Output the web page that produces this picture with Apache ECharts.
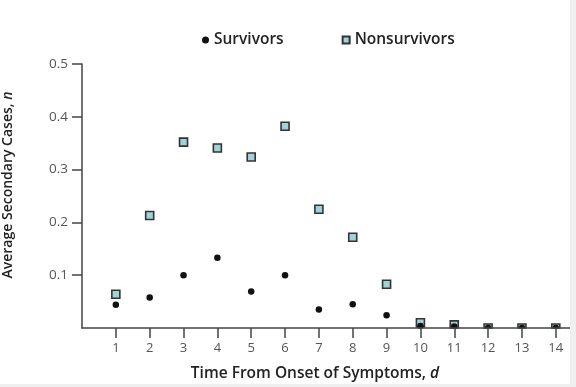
<!DOCTYPE html>
<html><head><meta charset="utf-8">
<script src="https://cdn.jsdelivr.net/npm/echarts@6/dist/echarts.min.js"></script>
<style>html,body{margin:0;padding:0;background:#efefef;} #c{width:570px;height:384px;background:#fff;}</style>
</head><body><div id="c"></div>
<script>
const days = [1,2,3,4,5,6,7,8,9,10,11,12,13,14];
const survivors = [0.044,0.058,0.100,0.133,0.069,0.100,0.035,0.045,0.024,0.004,0.003,0,0,0];
const nonsurvivors = [0.064,0.213,0.352,0.341,0.324,0.382,0.225,0.172,0.083,0.010,0.006,0,0,0];
const yTicks = [0.1,0.2,0.3,0.4,0.5];
const xTicks = days;

const font = '"Open Sans", "Noto Sans", sans-serif';
const axisColor = '#444';
const chart = echarts.init(document.getElementById('c'), null, {renderer:'canvas'});
chart.setOption({
  animation:false,
  backgroundColor:'#fff',
  textStyle:{fontFamily:font},
  legend:{
    top:27, left:197, itemGap:58, itemWidth:7, itemHeight:7,
    textStyle:{fontFamily:font, fontSize:15.5, fontWeight:600, color:'#222'},
    data:[{name:'Survivors', icon:'circle'},{name:'Nonsurvivors', icon:'rect'}]
  },
  grid:{left:82, top:64, right:0, bottom:56, containLabel:false, outerBoundsMode:'none'},
  xAxis:{
    type:'value', min:0, max:14.42, z:5,
    name:'{a|Time From Onset of Symptoms, }{b|d}',
    nameLocation:'middle', nameGap:38,
    nameTextStyle:{padding:[0,22,0,0], rich:{
      a:{fontFamily:font, fontSize:15.5, fontWeight:600, color:'#222'},
      b:{fontFamily:font, fontSize:15.5, fontWeight:600, fontStyle:'italic', color:'#222'}}},
    axisLine:{lineStyle:{color:axisColor, width:1.5}},
    axisTick:{show:true, inside:false, length:10, customValues:xTicks, lineStyle:{color:axisColor, width:1.5}},
    axisLabel:{customValues:xTicks, margin:14, fontFamily:font, fontSize:13, color:'#555'},
    splitLine:{show:false}
  },
  yAxis:{
    type:'value', min:0, max:0.5,
    name:'{a|Average Secondary Cases, }{b|n}',
    nameLocation:'middle', nameGap:67, nameRotate:90,
    nameTextStyle:{padding:[0,0,0,22], rich:{
      a:{fontFamily:font, fontSize:14, fontWeight:600, color:'#222'},
      b:{fontFamily:font, fontSize:14, fontWeight:600, fontStyle:'italic', color:'#222'}}},
    axisLine:{show:true, lineStyle:{color:axisColor, width:1.5}},
    axisTick:{show:true, inside:false, length:10, customValues:yTicks, lineStyle:{color:axisColor, width:1.5}},
    axisLabel:{customValues:yTicks, margin:14, fontFamily:font, fontSize:13.5, color:'#555',
      formatter:v=>v.toFixed(1)},
    splitLine:{show:false}
  },
  series:[
    {name:'Nonsurvivors', type:'scatter', z:2, symbol:'rect', symbolSize:8, clip:true,
     itemStyle:{color:'#9fd3d8', borderColor:'#333', borderWidth:1.6, opacity:1},
     data:days.map((d,i)=>[d, nonsurvivors[i]])},
    {name:'Survivors', type:'scatter', z:3, symbol:'circle', symbolSize:6.5, clip:true,
     itemStyle:{color:'#111', opacity:1},
     data:days.map((d,i)=>[d, survivors[i]])}
  ]
});
// white mask below the x axis so markers sitting on the axis appear cut off by it
const origin = chart.convertToPixel({gridIndex:0}, [0, 0]);
chart.setOption({
  graphic:[{type:'rect', z:4, silent:true,
    shape:{x:origin[0]+1, y:origin[1]+0.7, width:570-origin[0], height:8},
    style:{fill:'#fff'}}]
});
</script></body></html>
